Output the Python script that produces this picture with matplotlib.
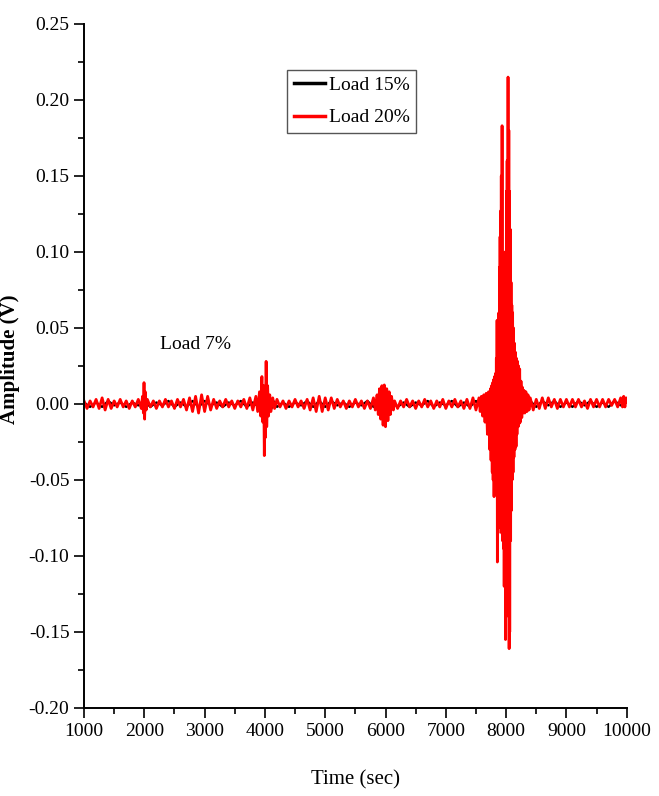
import numpy as np
import matplotlib.pyplot as plt
from matplotlib.ticker import MultipleLocator, FormatStrFormatter

plt.rcParams['font.family'] = ['Liberation Serif', 'DejaVu Serif']

# Load 20% (red) - alternating peaks
t20 = [1000, 1050, 1100, 1150, 1200, 1250, 1300, 1350, 1400, 1450, 1500, 1550, 1600, 1650, 1700, 1750, 1800, 1850, 1900,
       1950, 1970, 1985, 1995, 2005, 2015, 2030, 2050,
       2100, 2150, 2200, 2250, 2300, 2350, 2400, 2450, 2500, 2550, 2600, 2650,
       2700, 2750, 2800, 2850, 2900, 2950, 3000, 3050, 3100, 3150, 3200,
       3250, 3300, 3350, 3400, 3450, 3500, 3550, 3600, 3650, 3700, 3750, 3800, 3850,
       3880, 3910, 3930, 3950, 3965, 3980, 3990, 4000, 4010, 4020, 4030, 4045, 4060, 4080, 4100, 4130, 4160,
       4200, 4250, 4300, 4350, 4400, 4450, 4500, 4550, 4600, 4650, 4700,
       4750, 4800, 4850, 4900, 4950, 5000, 5050, 5100, 5150, 5200,
       5250, 5300, 5350, 5400, 5450, 5500, 5550, 5600, 5650, 5700, 5750, 5800,
       5830, 5860, 5880, 5900, 5920, 5940, 5960, 5980, 6000, 6020, 6040, 6060, 6080, 6100, 6130,
       6150, 6200, 6250, 6300, 6350, 6400, 6450, 6500, 6550, 6600, 6650, 6700, 6750, 6800,
       6850, 6900, 6950, 7000, 7050, 7100, 7150, 7200, 7250, 7300, 7350, 7400, 7450, 7500,
       7550, 7570, 7590, 7610, 7630, 7650, 7670, 7690, 7710, 7730, 7740, 7750, 7760, 7770, 7778, 7785,
       7793, 7800, 7808, 7815, 7823, 7830, 7838, 7845, 7850, 7855, 7860, 7865, 7870, 7875, 7880, 7885,
       7890, 7895, 7900, 7905, 7910, 7915, 7920, 7927, 7933, 7940, 7947, 7955, 7961, 7968, 7975, 7982,
       7986, 7990, 7995, 8000, 8005, 8010, 8017, 8025, 8032, 8040, 8045, 8050, 8055, 8060, 8067, 8075,
       8082, 8090, 8095, 8100, 8108, 8115, 8122, 8130, 8138, 8147, 8155, 8165, 8172, 8180, 8190, 8200,
       8207, 8215, 8225, 8235, 8247, 8260, 8270, 8280, 8295, 8310, 8328, 8346, 8363, 8380,
       8400, 8450, 8500, 8550, 8600, 8650, 8700, 8750, 8800, 8850, 8900, 8950, 9000, 9050,
       9100, 9150, 9200, 9250, 9300, 9350, 9400, 9450, 9500, 9550, 9600, 9650, 9700, 9750,
       9800, 9850, 9900, 9930, 9950, 9970, 9990, 10000]
a20 = [0.002, -0.003, 0.002, -0.002, 0.003, -0.003, 0.004, -0.004, 0.003, -0.003, 0.002, -0.002, 0.003, -0.002, 0.002, -0.003, 0.002, -0.002, 0.003,
       -0.003, 0.005, -0.006, 0.014, -0.010, 0.008, -0.004, 0.003,
       -0.002, 0.002, -0.003, 0.002, -0.002, 0.003, -0.002, 0.002, -0.003, 0.003, -0.002, 0.003,
       -0.004, 0.004, -0.005, 0.005, -0.006, 0.006, -0.005, 0.005, -0.004, 0.003, -0.003,
       0.002, -0.002, 0.003, -0.002, 0.002, -0.003, 0.002, -0.002, 0.003, -0.003, 0.004, -0.004, 0.005,
       -0.005, 0.008, -0.008, 0.018, -0.012, 0.012, -0.034, 0.010, -0.022, 0.028, -0.015, 0.012, -0.008, 0.006, -0.005, 0.004, -0.003,
       0.003, -0.002, 0.002, -0.003, 0.002, -0.002, 0.003, -0.002, 0.002, -0.003, 0.003,
       -0.004, 0.004, -0.005, 0.005, -0.005, 0.004, -0.004, 0.004, -0.003, 0.003,
       -0.002, 0.002, -0.003, 0.002, -0.002, 0.003, -0.002, 0.002, -0.003, 0.002, -0.003, 0.004,
       -0.004, 0.006, -0.007, 0.010, -0.010, 0.012, -0.014, 0.0125, -0.015, 0.010, -0.011, 0.008, -0.007, 0.005, -0.004,
       0.002, -0.003, 0.002, -0.002, 0.003, -0.002, 0.002, -0.003, 0.002, -0.002, 0.003, -0.002, 0.002, -0.003,
       0.002, -0.002, 0.003, -0.003, 0.002, -0.002, 0.003, -0.002, 0.002, -0.003, 0.003, -0.003, 0.004, -0.004,
       0.004, -0.005, 0.005, -0.008, 0.006, -0.012, 0.007, -0.020, 0.008, -0.030, 0.010, -0.037, 0.012, -0.045, 0.014, -0.050,
       0.016, -0.061, 0.018, -0.055, 0.020, -0.045, 0.030, -0.060, 0.055, -0.104, 0.045, -0.085, 0.040, -0.070, 0.060, -0.080,
       0.090, -0.081, 0.110, -0.075, 0.127, -0.060, 0.150, -0.085, 0.183, -0.090, 0.080, -0.095, 0.064, -0.120, 0.070, -0.110,
       0.100, -0.155, 0.090, -0.140, 0.140, -0.100, 0.160, -0.120, 0.215, -0.130, 0.180, -0.161, 0.140, -0.150, 0.115, -0.090,
       0.080, -0.070, 0.065, -0.050, 0.060, -0.045, 0.050, -0.035, 0.040, -0.030, 0.034, -0.028, 0.030, -0.020, 0.028, -0.015,
       0.025, -0.013, 0.023, -0.012, 0.015, -0.009, 0.011, -0.006, 0.009, -0.006, 0.008, -0.005, 0.006, -0.004,
       0.004, -0.004, 0.003, -0.003, 0.004, -0.003, 0.004, -0.002, 0.003, -0.003, 0.003, -0.002, 0.003, -0.002,
       0.003, -0.002, 0.003, -0.002, 0.002, -0.003, 0.003, -0.002, 0.003, -0.002, 0.003, -0.002, 0.003, -0.001,
       0.003, -0.002, 0.004, -0.002, 0.005, -0.002, 0.004, 0.001]

# Load 15% (black) - mostly hidden under the red trace
t15 = [1000, 1100, 1200, 1300, 1400, 1500, 1600, 1700, 1800, 1900, 2000, 2100, 2200, 2300, 2400, 2500,
       2600, 2700, 2800, 2900, 3000, 3100, 3200, 3300, 3400, 3500, 3600, 3700, 3800, 3900,
       3960, 3990, 4020, 4050, 4080, 4110, 4140, 4200, 4300, 4400, 4500, 4600, 4700, 4800,
       4900, 5000, 5100, 5200, 5300, 5400, 5500, 5600, 5700, 5800, 5900, 6000, 6100, 6200,
       6300, 6400, 6500, 6600, 6700, 6800, 6900, 7000, 7100, 7200, 7300, 7400, 7500, 7600,
       7700, 7760, 7800, 7840, 7860, 7880, 7900, 7930, 7960, 7990, 8010, 8040, 8070, 8100,
       8140, 8180, 8220, 8300, 8400, 8500, 8600, 8700, 8800, 8900, 9000, 9100, 9200, 9300,
       9400, 9500, 9600, 9700, 9800, 9900, 10000]
a15 = [0.001, -0.002, 0.001, -0.002, 0.002, -0.001, 0.001, -0.002, 0.001, -0.001, 0.002, -0.002, 0.001, -0.001, 0.002, -0.002,
       0.001, -0.002, 0.002, -0.002, 0.002, -0.001, 0.001, -0.002, 0.001, -0.001, 0.002, -0.002, 0.001, -0.002,
       0.010, -0.012, 0.015, -0.005, 0.004, -0.003, 0.002, -0.002, 0.001, -0.002, 0.001, -0.001, 0.002, -0.002,
       0.002, -0.002, 0.002, -0.001, 0.001, -0.002, 0.001, -0.001, 0.002, -0.002, 0.004, -0.005, 0.002, -0.002,
       0.001, -0.002, 0.001, -0.001, 0.002, -0.002, 0.001, -0.001, 0.002, -0.002, 0.001, -0.002, 0.002, -0.003,
       0.004, -0.010, 0.010, -0.030, 0.045, -0.050, 0.055, -0.067, 0.045, -0.080, 0.058, -0.060, 0.050, -0.030,
       0.025, -0.010, 0.006, -0.003, 0.002, -0.002, 0.002, -0.001, 0.002, -0.002, 0.001, -0.002, 0.002, -0.001,
       0.002, -0.002, 0.001, -0.002, 0.002, -0.001, 0.002]

fig = plt.figure(figsize=(6.59, 7.96), dpi=100)
ax = fig.add_axes([0.1275, 0.1106, 0.8235, 0.8594])

ax.plot(t15, a15, color='black', lw=1.6, label='Load 15%')
ax.plot(t20, a20, color='#ff0000', lw=2.0, label='Load 20%')

ax.set_xlim(1000, 10000)
ax.set_ylim(-0.20, 0.25)
ax.xaxis.set_major_locator(MultipleLocator(1000))
ax.xaxis.set_minor_locator(MultipleLocator(500))
ax.yaxis.set_major_locator(MultipleLocator(0.05))
ax.yaxis.set_minor_locator(MultipleLocator(0.025))
ax.yaxis.set_major_formatter(FormatStrFormatter('%.2f'))
ax.tick_params(which='major', direction='out', length=7, width=1.2, labelsize=14)
ax.tick_params(which='minor', direction='out', length=4, width=1.2)
for s in ['top', 'right']:
    ax.spines[s].set_visible(False)
for s in ['left', 'bottom']:
    ax.spines[s].set_linewidth(1.4)

ax.set_xlabel('Time (sec)', fontsize=15, labelpad=22)
ax.set_ylabel('Amplitude (V)', fontsize=15, fontweight='bold')
ax.yaxis.set_label_coords(-0.118, 0.51)

ax.text(2260, 0.039, 'Load 7%', fontsize=14, va='center', ha='left')

leg = ax.legend(loc='upper left', bbox_to_anchor=(0.374, 0.933), borderaxespad=0,
                fontsize=14, fancybox=False, framealpha=1, edgecolor='#555555',
                handlelength=1.6, handletextpad=0.2, borderpad=0.35, labelspacing=0.75)
leg.get_frame().set_linewidth(1.0)
for line in leg.get_lines():
    line.set_linewidth(2.5)

fig.savefig('out.png', dpi=100)
